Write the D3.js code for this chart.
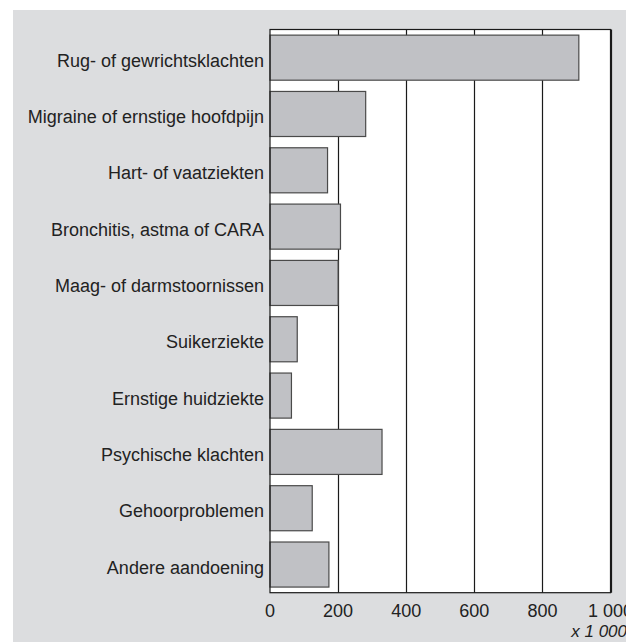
<!DOCTYPE html>
<html>
<head>
<meta charset="utf-8">
<script src="https://cdn.jsdelivr.net/npm/d3@7.9.0/dist/d3.min.js"></script>
<style>
  body { margin: 0; background: #fff; }
  svg { display: block; font-family: "Liberation Sans", Arial, sans-serif; }
</style>
</head>
<body>
<svg width="626" height="642"></svg>
<script>
// aandoeningen (x 1 000 personen)
const categories = [
  "Rug- of gewrichtsklachten",
  "Migraine of ernstige hoofdpijn",
  "Hart- of vaatziekten",
  "Bronchitis, astma of CARA",
  "Maag- of darmstoornissen",
  "Suikerziekte",
  "Ernstige huidziekte",
  "Psychische klachten",
  "Gehoorproblemen",
  "Andere aandoening"
];
const values = [907, 281, 169, 207, 200, 80, 63, 329, 124, 173];
const tickValues = [0, 200, 400, 600, 800, 1000];

const svg = d3.select("svg");
const margin = { left: 270, top: 29.5, right: 610.5, bottom: 592.7 };

// grijze achtergrond
svg.append("rect")
  .attr("x", 13).attr("y", 10)
  .attr("width", 626 - 13).attr("height", 642 - 10)
  .attr("fill", "#dcdddf");

const x = d3.scaleLinear().domain([0, 1000]).range([margin.left, margin.right]);
const y = d3.scaleBand().domain(categories)
  .range([margin.top, margin.bottom])
  .paddingInner(0.2).paddingOuter(0.1);

// plotvlak
svg.append("rect")
  .attr("x", margin.left).attr("y", margin.top)
  .attr("width", margin.right - margin.left)
  .attr("height", margin.bottom - margin.top)
  .attr("fill", "#fff");

// rasterlijnen
svg.append("g")
  .selectAll("line")
  .data(tickValues.slice(1))
  .join("line")
  .attr("x1", d => Math.round(x(d)) + 0.5).attr("x2", d => Math.round(x(d)) + 0.5)
  .attr("y1", margin.top).attr("y2", margin.bottom)
  .attr("stroke", "#1a1a1a").attr("stroke-width", 1.2);

// balken
svg.append("g")
  .selectAll("rect")
  .data(values)
  .join("rect")
  .attr("x", x(0))
  .attr("y", (d, i) => y(categories[i]))
  .attr("width", d => x(d) - x(0))
  .attr("height", y.bandwidth())
  .attr("fill", "#c0c1c5")
  .attr("stroke", "#4a4a4a")
  .attr("stroke-width", 1.2);

// rand plotvlak
svg.append("rect")
  .attr("x", margin.left).attr("y", margin.top)
  .attr("width", margin.right - margin.left)
  .attr("height", margin.bottom - margin.top)
  .attr("fill", "none")
  .attr("stroke", "#1a1a1a").attr("stroke-width", 1.2);

// categorie labels
svg.append("g")
  .selectAll("text")
  .data(categories)
  .join("text")
  .attr("x", 264)
  .attr("y", d => y(d) + y.bandwidth() / 2 + 9)
  .attr("text-anchor", "end")
  .attr("font-size", 18)
  .attr("fill", "#222")
  .text(d => d);

// x-as labels
const fmt = d => d >= 1000 ? d3.format(",")(d).replace(",", " ") : String(d);
svg.append("g")
  .selectAll("text")
  .data(tickValues)
  .join("text")
  .attr("x", d => x(d))
  .attr("y", 617)
  .attr("text-anchor", "middle")
  .attr("font-size", 18)
  .attr("fill", "#222")
  .text(fmt);

svg.append("text")
  .attr("x", 627)
  .attr("y", 637)
  .attr("text-anchor", "end")
  .attr("font-size", 17)
  .attr("font-style", "italic")
  .attr("fill", "#222")
  .text("x 1 000");
</script>
</body>
</html>
